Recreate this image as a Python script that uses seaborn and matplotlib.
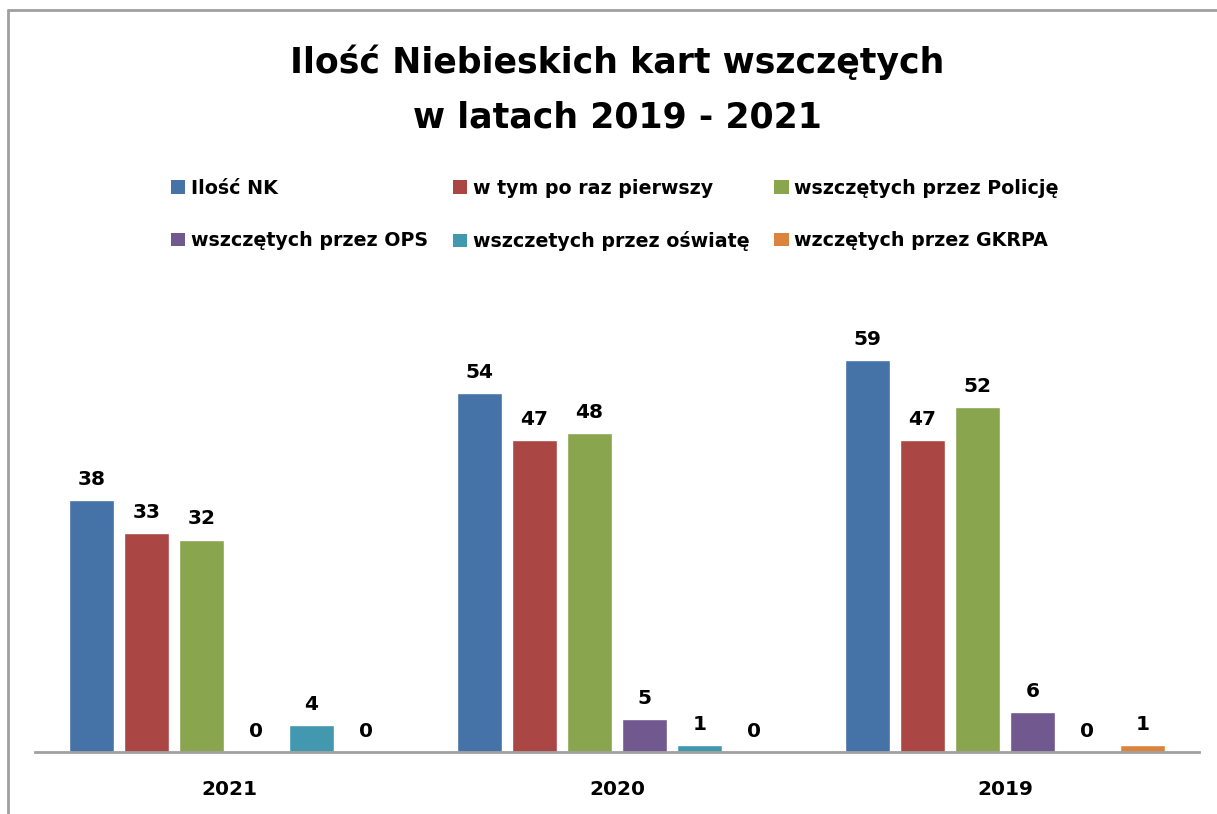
import pandas as pd
import matplotlib.pyplot as plt
import seaborn as sns
from matplotlib.lines import Line2D
from matplotlib.patches import Patch

years = ['2021', '2020', '2019']
series = ['Ilość NK', 'w tym po raz pierwszy', 'wszczętych przez Policję',
          'wszczętych przez OPS', 'wszczetych przez oświatę', 'wzczętych przez GKRPA']
ilosc_nk = [38, 54, 59]
po_raz_pierwszy = [33, 47, 47]
policja = [32, 48, 52]
ops = [0, 5, 6]
oswiata = [4, 1, 0]
gkrpa = [0, 0, 1]
colors = ['#4572A7', '#AA4643', '#89A54E', '#71588F', '#4198AF', '#DB843D']

values = [ilosc_nk, po_raz_pierwszy, policja, ops, oswiata, gkrpa]
rows = []
for s, vals in zip(series, values):
    for y, v in zip(years, vals):
        rows.append({'rok': y, 'seria': s, 'ilosc': v})
df = pd.DataFrame(rows)

sns.set_style('white')
plt.rcParams['font.family'] = ['DejaVu Sans']
plt.rcParams['text.color'] = 'black'
plt.rcParams['xtick.color'] = 'black'

fig = plt.figure(figsize=(12.17, 8.14), dpi=100)
ax = fig.add_axes([35 / 1217, 1 - 752 / 814, (1199 - 35) / 1217, (752 - 300) / 814])

sns.barplot(data=df, x='rok', y='ilosc', hue='seria', order=years, hue_order=series,
            palette=colors, saturation=1, width=0.85, gap=0.18, ax=ax, legend=False)

for c in ax.containers:
    ax.bar_label(c, padding=8, fontsize=14.5, fontweight='bold', color='black')

ax.set_ylim(0, 452 / 6.64)
ax.set_xlim(-0.5, 2.5)
ax.set_xlabel('')
ax.set_ylabel('')
ax.set_yticks([])
ax.tick_params(axis='x', length=0, pad=20, labelsize=14.5, labelcolor='black')
for lbl in ax.get_xticklabels():
    lbl.set_fontweight('bold')
for side in ['top', 'right', 'left']:
    ax.spines[side].set_visible(False)
ax.spines['bottom'].set_color('#a0a0a0')
ax.spines['bottom'].set_linewidth(2)

# title
fig.text(617 / 1217, 1 - 62 / 814, 'Ilość Niebieskich kart wszczętych', ha='center', va='center',
         fontsize=25, fontweight='bold', color='black')
fig.text(617 / 1217, 1 - 118 / 814, 'w latach 2019 - 2021', ha='center', va='center',
         fontsize=25, fontweight='bold', color='black')

# legend, row-major order
handles = [Patch(facecolor=c, edgecolor='none') for c in colors]
order = [0, 3, 1, 4, 2, 5]
fig.legend([handles[i] for i in order], [series[i] for i in order], ncol=3,
           loc='center', bbox_to_anchor=(615 / 1217, 1 - 215 / 814), frameon=False,
           prop={'weight': 'bold', 'size': 13.7}, handlelength=0.75, handleheight=0.75,
           handletextpad=0.3, columnspacing=1.3, labelspacing=1.75)

# chart frame
fig.add_artist(Line2D([8 / 1217, 1], [1 - 10 / 814, 1 - 10 / 814], color='#a0a0a0', lw=2))
fig.add_artist(Line2D([8 / 1217, 8 / 1217], [0, 1 - 10 / 814], color='#a0a0a0', lw=2))

fig.savefig('out.png', dpi=100, facecolor='white')
